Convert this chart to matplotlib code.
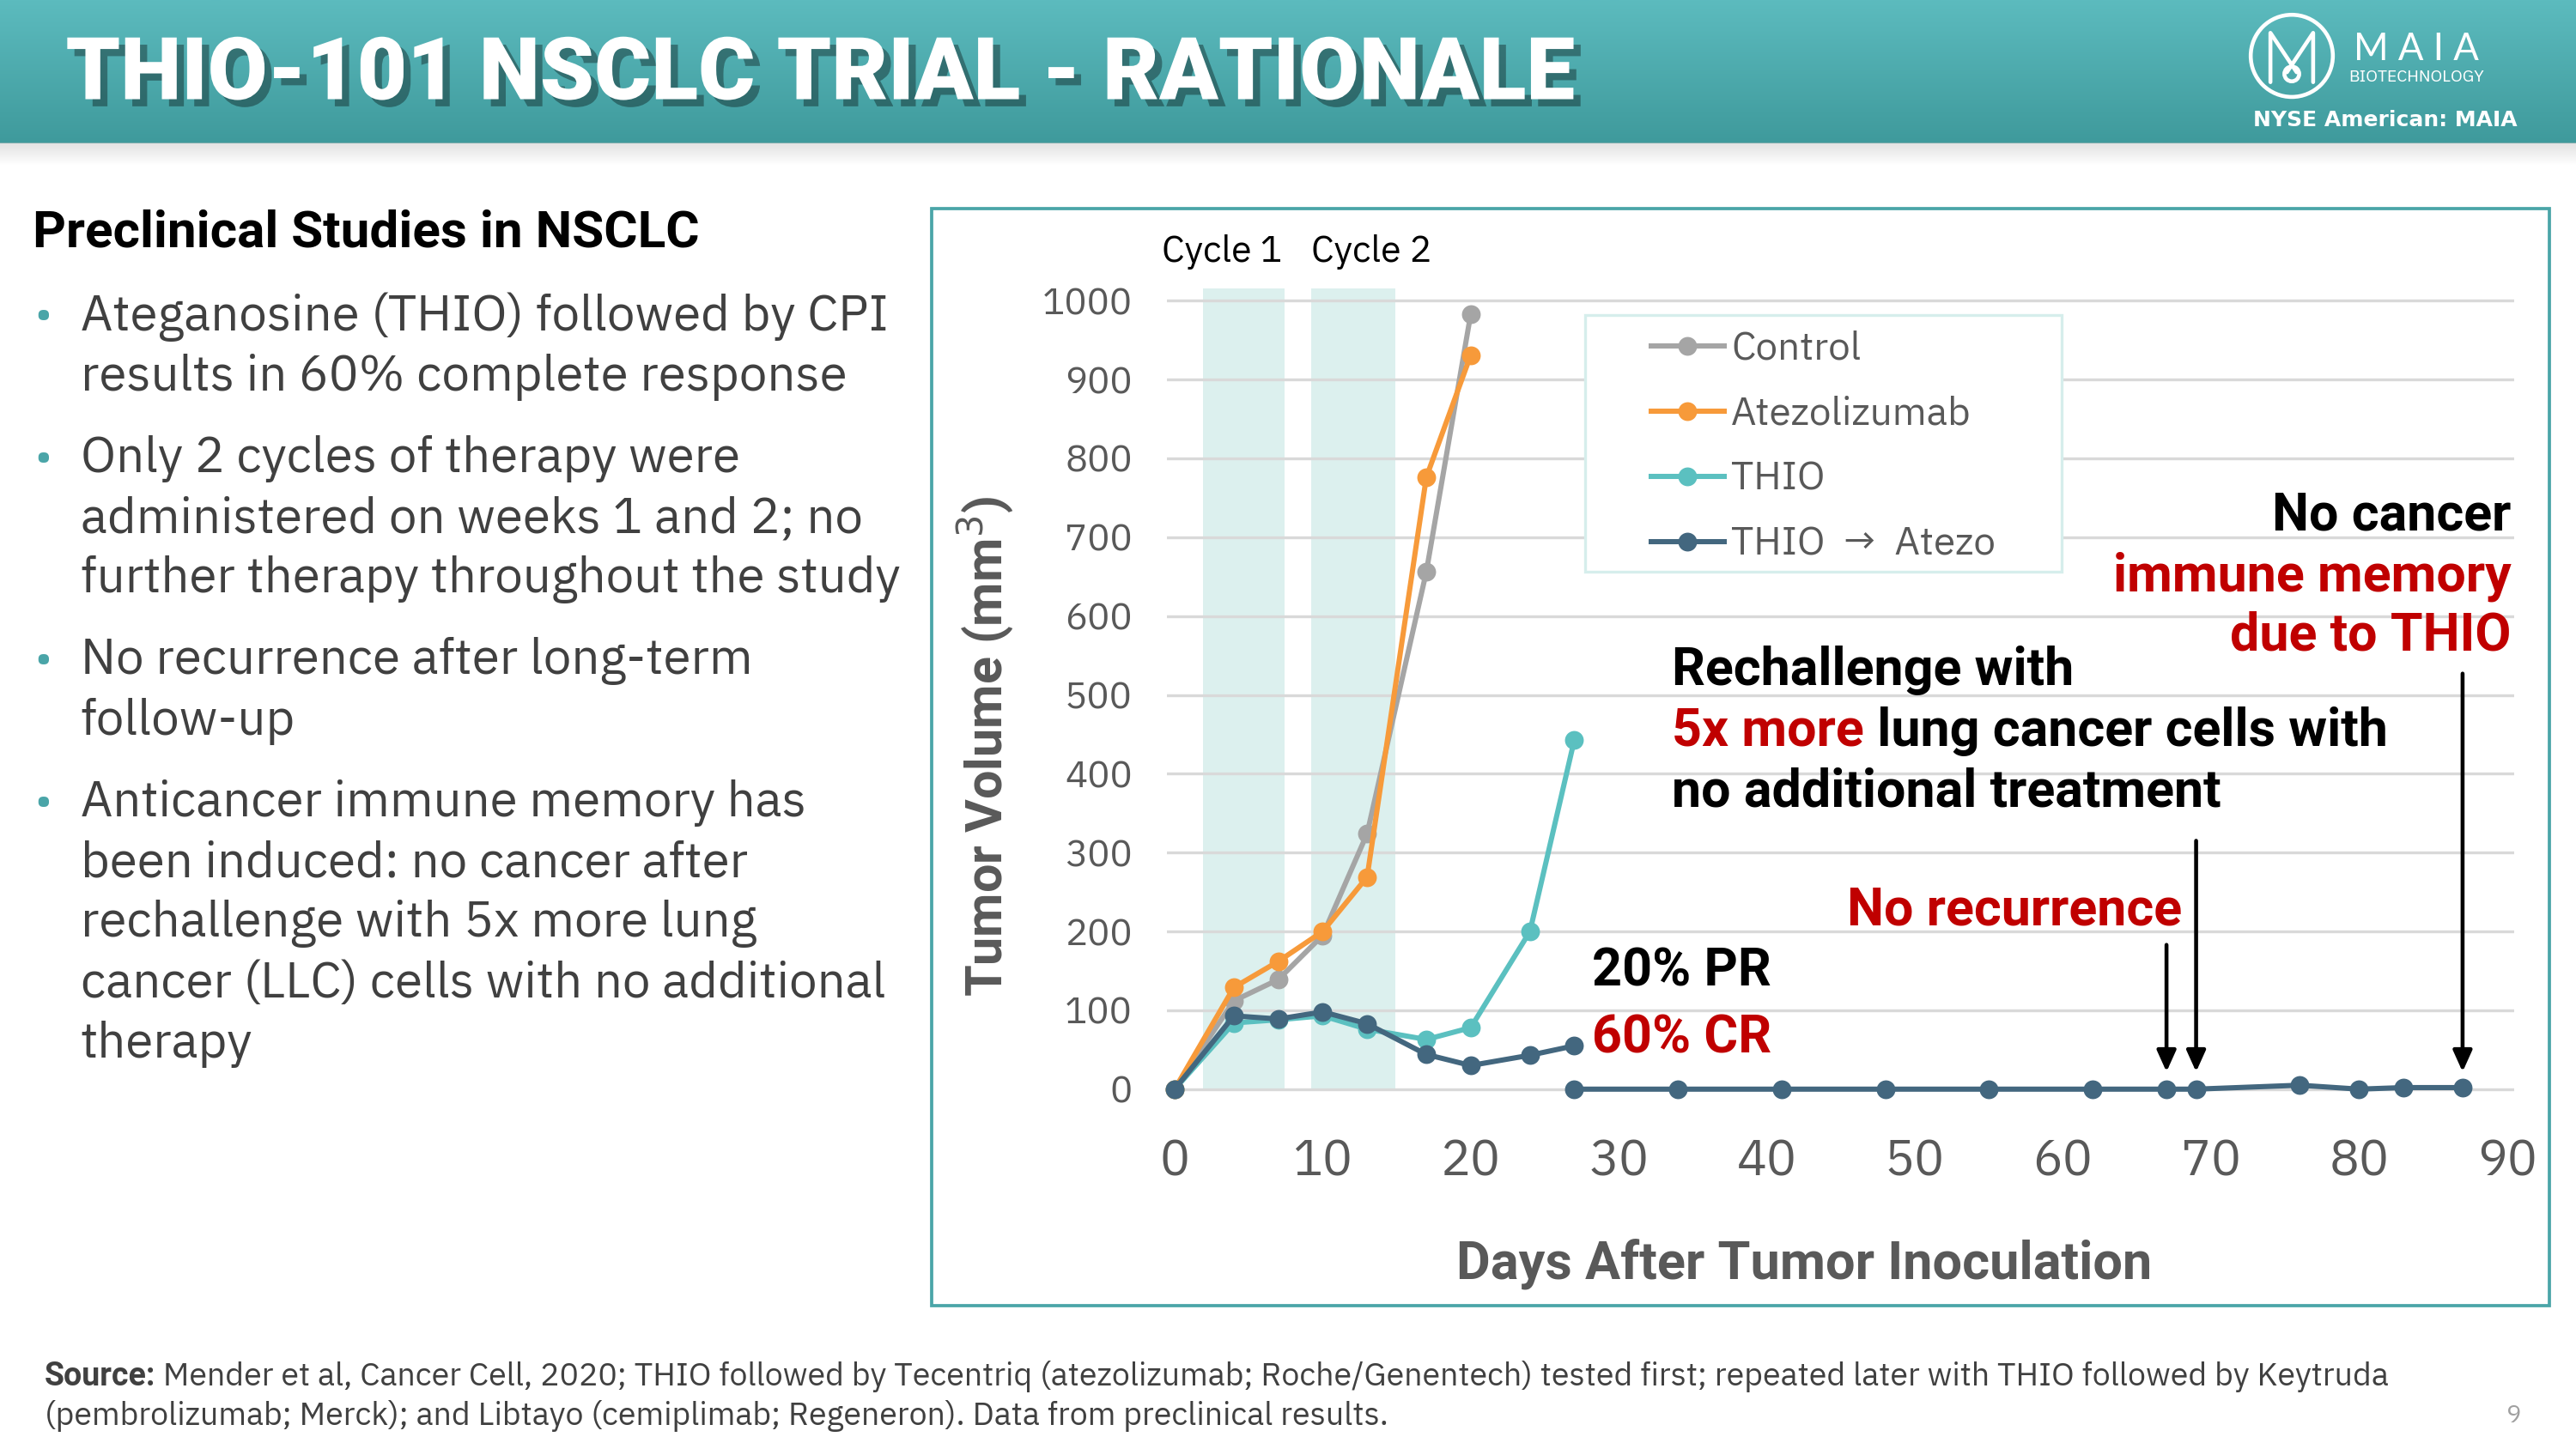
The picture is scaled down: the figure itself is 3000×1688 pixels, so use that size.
import numpy as np
import matplotlib
matplotlib.use("Agg")
import matplotlib.pyplot as plt
import matplotlib.patheffects as pe
from matplotlib.patches import Rectangle, Circle
from matplotlib.colors import LinearSegmentedColormap

# ---- data ----
days_early = [0, 4, 7, 10, 13, 17, 20]
control = [0, 112, 139, 195, 324, 656, 983]
atezolizumab = [0, 129, 162, 200, 269, 776, 931]

days_thio = [0, 4, 7, 10, 13, 17, 20, 24, 27]
thio = [0, 84, 88, 93, 76, 63, 78, 200, 443]
thio_atezo = [0, 93, 89, 98, 83, 44, 30, 43, 55]

days_followup = [27, 34, 41, 48, 55, 62, 67, 69, 76, 80, 83, 87]
thio_atezo_followup = [0, 0, 0, 0, 0, 0, 0, 0, 5, 0, 2, 2]

series_names = ["Control", "Atezolizumab", "THIO", "THIO  →  Atezo"]
cycle_labels = ["Cycle 1", "Cycle 2"]
cycle_spans = [(1.9, 7.4), (9.2, 14.9)]
x_ticks = list(range(0, 91, 10))
y_ticks = list(range(0, 1001, 100))

arrow_days = [67, 69, 87]
arrow_tops = [183, 315, 527]

bullets = [
    ["Ateganosine (THIO) followed by CPI", "results in 60% complete response"],
    ["Only 2 cycles of therapy were", "administered on weeks 1 and 2; no",
     "further therapy throughout the study"],
    ["No recurrence after long-term", "follow-up"],
    ["Anticancer immune memory has", "been induced: no cancer after",
     "rechallenge with 5x more lung", "cancer (LLC) cells with no additional",
     "therapy"],
]

# colours
C_CONTROL = "#A5A5A5"
C_ATEZO = "#F79A3A"
C_THIO = "#5BC0C0"
C_COMBO = "#43677F"
RED = "#C00000"
GREY = "#595959"
TEAL = "#4AA5A8"

FONT = ["IBM Plex Sans", "Roboto", "DejaVu Sans"]
BOLD = ["Roboto", "DejaVu Sans"]      # plex has no bold face here
plt.rcParams["font.family"] = FONT

W, H = 1568, 882  # layout grid (slide units)
fig = plt.figure(figsize=(3000 / 150, 1688 / 150), dpi=150)

bg = fig.add_axes([0, 0, 1, 1], zorder=0)
bg.set_xlim(0, W)
bg.set_ylim(H, 0)
bg.axis("off")

# header band with gradient
cmap = LinearSegmentedColormap.from_list("hdr", ["#5CBBBE", "#3F9A9C"])
bg.imshow(np.linspace(0, 1, 64).reshape(-1, 1), cmap=cmap, extent=(0, W, 87, 0),
          aspect="auto", zorder=1)
shadow = np.ones((16, 1, 4))
shadow[..., :3] = 0.75
shadow[:, 0, 3] = np.linspace(0.45, 0.0, 16)
bg.imshow(shadow, extent=(0, W, 101, 87), aspect="auto", zorder=1)

bg.text(40, 46, "THIO-101 NSCLC TRIAL - RATIONALE", color="white", fontsize=48.5,
        fontweight="black", family=BOLD, va="center", ha="left", zorder=3,
        path_effects=[pe.SimplePatchShadow(offset=(4, -4), shadow_rgbFace="black", alpha=0.35),
                      pe.Normal()])

# logo
bg.add_patch(Circle((1395, 34), 25, fill=False, ec="white", lw=2.2, zorder=3))
bg.plot([1382, 1382, 1398], [50, 20, 44], color="white", lw=2.2, solid_capstyle="round", zorder=3)
bg.plot([1408, 1408, 1392], [50, 20, 44], color="white", lw=2.2, solid_capstyle="round", zorder=3)
bg.add_patch(Circle((1395, 45), 4.5, fill=False, ec="white", lw=2.2, zorder=3))
bg.text(1471, 30, "M A I A", color="white", fontsize=21, family=["Lato", "DejaVu Sans"],
        va="center", ha="center", zorder=3)
bg.text(1471, 47, "BIOTECHNOLOGY", color="white", fontsize=9.3, va="center", ha="center", zorder=3)
bg.text(1452, 73, "NYSE American: MAIA", color="white", fontsize=12, fontweight="bold",
        family=["DejaVu Sans"], va="center", ha="center", zorder=3)

# left column text
bg.text(20, 142, "Preclinical Studies in NSCLC", fontsize=28.9, fontweight="bold",
        family=BOLD, color="black", va="center", ha="left")
line_y = 193
for block in bullets:
    bg.text(21, line_y, "•", fontsize=24, color=TEAL, va="center", ha="left")
    for ln in block:
        bg.text(49, line_y, ln, fontsize=27.9, color="#404040", va="center", ha="left")
        line_y += 36.7
    line_y += 13

# chart frame
bg.add_patch(Rectangle((567, 127), 985, 668, fill=False, ec=TEAL, lw=1.8, zorder=2))

# footer
src = bg.text(27, 838, "Source:", fontsize=18, fontweight="bold", family=BOLD,
              color="#404040", va="center", ha="left")
bg.annotate(" Mender et al, Cancer Cell, 2020; THIO followed by Tecentriq (atezolizumab; "
            "Roche/Genentech) tested first; repeated later with THIO followed by Keytruda",
            xy=(1, 0), xycoords=src, va="bottom", ha="left", fontsize=18, color="#404040")
bg.text(27, 862, "(pembrolizumab; Merck); and Libtayo (cemiplimab; Regeneron). Data from "
        "preclinical results.", fontsize=18, color="#404040", va="center", ha="left")
bg.text(1530, 862, "9", fontsize=14, color="#A0A0A0", va="center", ha="center")

# ---- chart ----
ax = fig.add_axes([710.5 / W, 1 - 666.8 / H, 820 / W, 493.4 / H], zorder=2)
ax.set_facecolor("none")
ax.set_xlim(-0.5, 90.5)
ax.set_ylim(-8, 1020)

for (a, b) in cycle_spans:
    ax.fill_between([a, b], 0, 1015, color="#DCF0EE", lw=0, zorder=0)
ax.text(3.2, 1062, cycle_labels[0], fontsize=20.5, ha="center", va="center", color="black")
ax.text(13.3, 1062, cycle_labels[1], fontsize=20.5, ha="center", va="center", color="black")

for v in y_ticks:
    ax.axhline(v, color="#D9D9D9", lw=1.6, zorder=0.5)

kw = dict(lw=2.9, marker="o", markersize=9.5, clip_on=False)
ax.plot(days_early, control, color=C_CONTROL, label=series_names[0], zorder=3, **kw)
ax.plot(days_early, atezolizumab, color=C_ATEZO, label=series_names[1], zorder=4, **kw)
ax.plot(days_thio, thio, color=C_THIO, label=series_names[2], zorder=3, **kw)
ax.plot(days_thio, thio_atezo, color=C_COMBO, label=series_names[3], zorder=5, **kw)
ax.plot(days_followup, thio_atezo_followup, color=C_COMBO, zorder=5, **kw)

ax.set_xticks(x_ticks)
ax.set_yticks(y_ticks)
ax.tick_params(axis="x", length=0, pad=24, labelsize=28, labelcolor=GREY)
ax.tick_params(axis="y", length=0, pad=19.5, labelsize=21, labelcolor=GREY)
for s in ax.spines.values():
    s.set_visible(False)

ax.set_ylabel("Tumor Volume (mm$^3$)", fontsize=28.5, fontweight="bold", family=BOLD,
              color=GREY)
ax.yaxis.set_label_coords(-0.112, 0.431)
ax.set_xlabel("Days After Tumor Inoculation", fontsize=29.4, fontweight="bold", family=BOLD,
              color=GREY)
ax.xaxis.set_label_coords(0.4726, -0.177)

# legend: frame drawn separately so its padding can match the slide
ax.add_patch(Rectangle((965, 192), 290, 156, transform=bg.transData, fc="white",
                       ec="#D6EEEC", lw=1.6, zorder=6, clip_on=False))
leg = ax.legend(loc="upper left", bbox_to_anchor=(0.359, 0.944), fontsize=22,
                frameon=False, handlelength=1.87, handletextpad=0.17, labelspacing=0.72,
                borderpad=0, borderaxespad=0)
leg.set_zorder(7)
for t in leg.get_texts():
    t.set_color(GREY)

# annotations
FS = 29.3
bold = dict(fontsize=FS, fontweight="bold", family=BOLD, va="center")
ax.text(90.3, 727, "No cancer", color="black", ha="right", **bold)
ax.text(90.3, 650, "immune memory", color=RED, ha="right", **bold)
ax.text(90.3, 575, "due to THIO", color=RED, ha="right", **bold)
ax.text(33.6, 531, "Rechallenge with", color="black", ha="left", **bold)
t5 = ax.text(33.6, 454, "5x more", color=RED, ha="left", **bold)
ax.annotate(" lung cancer cells with", xy=(1, 0), xycoords=t5, va="bottom", ha="left",
            color="black", fontsize=FS, fontweight="bold", family=BOLD)
ax.text(33.6, 377, "no additional treatment", color="black", ha="left", **bold)
ax.text(45.4, 227, "No recurrence", color=RED, ha="left", **bold)
ax.text(28.2, 150, "20% PR", color="black", ha="left", **bold)
ax.text(28.2, 65, "60% CR", color=RED, ha="left", **bold)

for d, top in zip(arrow_days, arrow_tops):
    ax.annotate("", xy=(d, 22), xytext=(d, top),
                arrowprops=dict(arrowstyle="-|>,head_length=1.0,head_width=0.45",
                                color="black", lw=2.2, shrinkA=0, shrinkB=0))

fig.savefig("out.png", dpi=150)
